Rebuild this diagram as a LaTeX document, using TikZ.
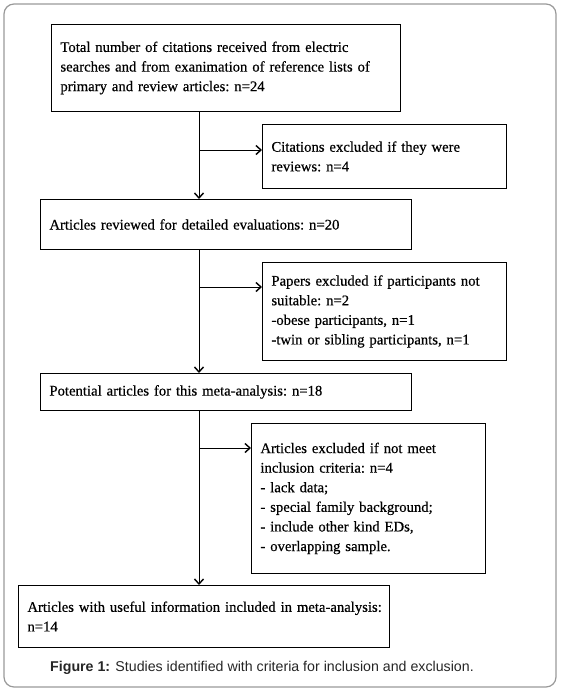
\documentclass[tikz,border=0pt]{standalone}
\usepackage{fontspec}
\setmainfont{Liberation Serif}
\setsansfont{Liberation Sans}
\newfontfamily\boxfont[FakeBold=0.5]{Liberation Serif}
\usetikzlibrary{arrows.meta}
\tikzset{
  flowbox/.style={draw=black, line width=0.9pt, anchor=north west, align=left,
    inner xsep=9pt, inner ysep=0pt, font=\boxfont\fontsize{14.7}{19.6}\selectfont\frenchspacing},
  arr/.style={line width=0.9pt, -{Straight Barb[length=5pt,width=9pt,line width=1.4pt]}},
  plain/.style={line width=0.9pt}
}
\begin{document}
\begin{tikzpicture}[x=1pt,y=-1pt]
\useasboundingbox (0,0) rectangle (560,691);
\draw[draw=black!40, line width=1.2pt, rounded corners=10pt] (4,4) rectangle (556,687);

\node[flowbox, text width=331pt, minimum height=87pt] (box1) at (51,24)
  {Total number of citations received from electric\\searches and from exanimation of reference lists of\\primary and review articles: n=24};
\node[flowbox, text width=226pt, minimum height=64pt] (ex1) at (262,124)
  {Citations excluded if they were\\reviews: n=4};
\node[flowbox, text width=353pt, minimum height=50pt] (box2) at (40,199)
  {Articles reviewed for detailed evaluations: n=20\\[4pt]};
\node[flowbox, text width=226pt, minimum height=98pt] (ex2) at (262,262)
  {Papers excluded if participants not\\suitable: n=2\\-obese participants, n=1\\-twin or sibling participants, n=1};
\node[flowbox, text width=353pt, minimum height=37pt] (box3) at (40,373)
  {Potential articles for this meta-analysis: n=18};
\node[flowbox, text width=216pt, minimum height=150pt] (ex3) at (251,423)
  {Articles excluded if not meet\\inclusion criteria: n=4\\- lack data;\\- special family background;\\- include other kind EDs,\\- overlapping sample.\\[8pt]};
\node[flowbox, text width=353pt, minimum height=62pt] (box4) at (18,585)
  {\mbox{Articles with useful information included in meta-analysis:}\\n=14};

\coordinate (b1) at (199,150);
\coordinate (b2) at (199,287);
\coordinate (b3) at (199,448);

\draw[arr] (box1.south -| b1) -- (box2.north -| b1);
\draw[arr] (box2.south -| b1) -- (box3.north -| b1);
\draw[arr] (box3.south -| b1) -- (box4.north -| b1);
\draw[arr] (b1) -- (b1 -| ex1.west);
\draw[arr] (b2) -- (b2 -| ex2.west);
\draw[arr] (b3) -- (b3 -| ex3.west);

\node[font=\sffamily\fontsize{14.2}{17}\selectfont, text=black!85] (cap) at (262,668)
  {\textbf{Figure 1:} Studies identified with criteria for inclusion and exclusion.};
\end{tikzpicture}
\end{document}
